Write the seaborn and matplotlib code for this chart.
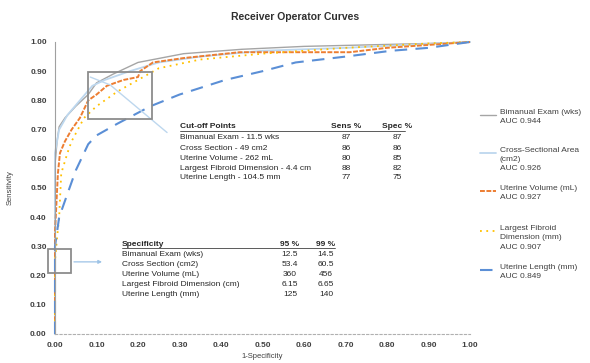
import numpy as np
import pandas as pd
import seaborn as sns
import matplotlib.pyplot as plt
from matplotlib.lines import Line2D
from matplotlib.patches import Rectangle

# ROC curve points (1-specificity, sensitivity)
bimanual_x = [0, 0, 0.005, 0.01, 0.024, 0.05, 0.08, 0.10, 0.14, 0.20, 0.31, 0.45, 0.60, 0.75, 0.90, 1.0]
bimanual_y = [0, 0.58, 0.66, 0.71, 0.74, 0.78, 0.82, 0.86, 0.89, 0.93, 0.96, 0.975, 0.985, 0.99, 0.995, 1.0]

cross_x = [0, 0, 0.01, 0.03, 0.06, 0.09, 0.12, 0.18, 0.25, 0.35, 0.50, 0.70, 0.85, 1.0]
cross_y = [0, 0.62, 0.70, 0.75, 0.80, 0.85, 0.87, 0.90, 0.93, 0.95, 0.97, 0.98, 0.99, 1.0]

volume_x = [0, 0, 0.007, 0.012, 0.024, 0.04, 0.06, 0.08, 0.10, 0.125, 0.165, 0.20, 0.205, 0.236, 0.31, 0.445, 0.71, 0.80, 0.90, 1.0]
volume_y = [0, 0.35, 0.55, 0.62, 0.66, 0.70, 0.74, 0.80, 0.82, 0.85, 0.87, 0.88, 0.90, 0.93, 0.945, 0.965, 0.965, 0.98, 0.99, 1.0]

fibroid_x = [0, 0, 0.005, 0.01, 0.015, 0.03, 0.04, 0.07, 0.10, 0.15, 0.20, 0.25, 0.35, 0.50, 0.70, 0.90, 1.0]
fibroid_y = [0, 0.25, 0.33, 0.40, 0.55, 0.62, 0.66, 0.74, 0.78, 0.83, 0.87, 0.91, 0.94, 0.96, 0.98, 0.995, 1.0]

length_x = [0, 0, 0.01, 0.03, 0.05, 0.08, 0.10, 0.15, 0.23, 0.30, 0.41, 0.50, 0.58, 0.70, 0.81, 0.90, 1.0]
length_y = [0, 0.30, 0.40, 0.48, 0.56, 0.65, 0.68, 0.72, 0.78, 0.82, 0.87, 0.90, 0.93, 0.95, 0.97, 0.98, 1.0]

labels = ["Bimanual Exam (wks)\nAUC 0.944",
          "Cross-Sectional Area\n(cm2)\nAUC 0.926",
          "Uterine Volume (mL)\nAUC 0.927",
          "Largest Fibroid\nDimension (mm)\nAUC 0.907",
          "Uterine Length (mm)\nAUC 0.849"]

# cut-off table
cut_rows = ["Bimanual Exam - 11.5 wks", "Cross Section - 49 cm2", "Uterine Volume - 262 mL",
            "Largest Fibroid Dimension - 4.4 cm", "Uterine Length - 104.5 mm"]
cut_sens = ["87", "86", "80", "88", "77"]
cut_spec = ["87", "86", "85", "82", "75"]

# specificity table
spec_rows = ["Bimanual Exam (wks)", "Cross Section (cm2)", "Uterine Volume (mL)",
             "Largest Fibroid Dimension (cm)", "Uterine Length (mm)"]
spec_95 = ["12.5", "53.4", "360", "6.15", "125"]
spec_99 = ["14.5", "60.5", "456", "6.65", "140"]

sns.set_theme(style="white")
plt.rcParams['font.family'] = ['Liberation Sans', 'DejaVu Sans']

W, H = 590, 363
fig = plt.figure(figsize=(W / 100, H / 100), dpi=100)
ax = fig.add_axes([55 / W, 1 - 334 / H, 415 / W, 292 / H])

series = [
    (bimanual_x, bimanual_y, "#a5a5a5", "-", 1.0),
    (cross_x, cross_y, "#bdd7ee", "-", 1.3),
    (volume_x, volume_y, "#ed7d31", (0, (2.5, 0.8)), 1.4),
    (fibroid_x, fibroid_y, "#ffc000", (0, (1, 2.5)), 1.3),
    (length_x, length_y, "#5b8fd6", (0, (6, 4)), 1.5),
]
for xs, ys, col, ls, lw in series:
    df = pd.DataFrame({"x": xs, "y": ys})
    sns.lineplot(data=df, x="x", y="y", sort=False, estimator=None, ax=ax,
                 color=col, linestyle=ls, linewidth=lw, clip_on=False)

ax.set_xlim(0, 1)
ax.set_ylim(0, 1)
ax.set_xticks(np.arange(0, 1.01, 0.1))
ax.set_yticks(np.arange(0, 1.01, 0.1))
ax.xaxis.set_major_formatter(plt.FormatStrFormatter('%.2f'))
ax.yaxis.set_major_formatter(plt.FormatStrFormatter('%.2f'))
ax.tick_params(axis='both', labelsize=6, colors='#404040', length=0, pad=6)
for lab in ax.get_xticklabels() + ax.get_yticklabels():
    lab.set_fontweight('bold')
ax.set_xlabel("1-Specificity", fontsize=5.5, color='#404040', labelpad=3)
ax.set_ylabel("Sensitivity", fontsize=5.5, color='#404040', labelpad=12)
for s in ['top', 'right']:
    ax.spines[s].set_visible(False)
ax.spines['left'].set_color('#a0a0a0')
ax.spines['left'].set_linewidth(0.8)
ax.spines['bottom'].set_color('#b0b0b0')
ax.spines['bottom'].set_linestyle((0, (2, 2)))
ax.spines['bottom'].set_linewidth(0.8)

fig.text(0.5, 1 - 17 / H, "Receiver Operator Curves", ha='center', va='center',
         fontsize=7.5, fontweight='bold', color='#303030')

# zoom boxes and callout lines
ax.add_patch(Rectangle((0.08, 0.736), 0.154, 0.161, fill=False, edgecolor='#8c8c8c',
                       linewidth=1.3, clip_on=False, zorder=5))
ax.add_patch(Rectangle((-0.017, 0.21), 0.056, 0.08, fill=False, edgecolor='#8c8c8c',
                       linewidth=1.3, clip_on=False, zorder=5))
ax.plot([0.085, 0.133, 0.27], [0.88, 0.853, 0.69], color='#bdd7ee', linewidth=1, clip_on=False)
ax.annotate("", xy=(0.12, 0.247), xytext=(0.039, 0.247),
            arrowprops=dict(arrowstyle='-|>', color='#9dc3e6', lw=0.9, mutation_scale=5))

# tables
def ftxt(x, y, s, **kw):
    fig.text(x / W, 1 - y / H, s, fontsize=6, color='#262626', va='center_baseline', **kw)

ftxt(180, 126, "Cut-off Points", fontweight='bold')
ftxt(346, 126, "Sens %", fontweight='bold', ha='center')
ftxt(397, 126, "Spec %", fontweight='bold', ha='center')
fig.add_artist(Line2D([180 / W, 405 / W], [1 - 131 / H, 1 - 131 / H], color='#404040', lw=0.6))
for i, (r, a, b) in enumerate(zip(cut_rows, cut_sens, cut_spec)):
    y = 137 + 10 * i
    ftxt(180, y, r)
    ftxt(346, y, a, ha='center')
    ftxt(397, y, b, ha='center')

ftxt(122, 243, "Specificity", fontweight='bold')
ftxt(290, 243, "95 %", fontweight='bold', ha='center')
ftxt(326, 243, "99 %", fontweight='bold', ha='center')
fig.add_artist(Line2D([122 / W, 335 / W], [1 - 248 / H, 1 - 248 / H], color='#404040', lw=0.6))
for i, (r, a, b) in enumerate(zip(spec_rows, spec_95, spec_99)):
    y = 254 + 10 * i
    ftxt(122, y, r)
    ftxt(290, y, a, ha='center')
    ftxt(326, y, b, ha='center')

# legend, handle aligned with first text line as in the original
leg_tops = [115, 153, 191, 231, 270]
for (xs, ys, col, ls, lw), lab, yt in zip(series, labels, leg_tops):
    fig.add_artist(Line2D([480 / W, 496 / W], [1 - yt / H, 1 - yt / H], color=col,
                          linestyle=ls, linewidth=lw))
    fig.text(500 / W, 1 - (yt - 6) / H, lab, fontsize=6, color='#404040',
             va='top', ha='left', linespacing=1.45)

fig.savefig("out.png", dpi=100)
